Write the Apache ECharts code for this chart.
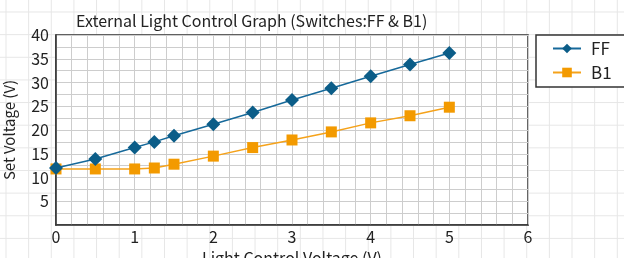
<!DOCTYPE html>
<html>
<head>
<meta charset="utf-8">
<script src="https://cdn.jsdelivr.net/npm/echarts@6/dist/echarts.min.js"></script>
<style>
  html, body { margin: 0; padding: 0; }
  body {
    width: 624px; height: 258px; overflow: hidden;
    background-color: #fff;
    background-image:
      linear-gradient(to right, #e6e6e6 1px, transparent 1px),
      linear-gradient(to bottom, #e6e6e6 1px, transparent 1px);
    background-size: 22.65px 22.65px;
    background-position: 5.5px 11.5px;
  }
  #main { width: 624px; height: 258px; }
</style>
</head>
<body>
<div id="main"></div>
<script>
// 横軸: 光制御電圧 (V)
const xVolts = [0, 0.5, 1, 1.25, 1.5, 2, 2.5, 3, 3.5, 4, 4.5, 5];
// 設定電圧 (V)
const ffValues = [12, 13.9, 16.3, 17.5, 18.8, 21.2, 23.7, 26.3, 28.8, 31.3, 33.8, 36.2];
const b1Values = [11.8, 11.8, 11.8, 12.0, 12.8, 14.5, 16.3, 17.9, 19.6, 21.5, 23.0, 24.8];
const seriesNames = ['FF', 'B1'];

const jpFont = '"Noto Sans CJK JP", sans-serif';
const tickFont = '"Liberation Sans Narrow", "Noto Sans CJK JP", sans-serif';

function initChart(dom){
    let chartDom = document.getElementById(dom);
    let chartInstance = echarts.getInstanceByDom(chartDom);
    if(chartInstance){
        return chartInstance;
    }
    return echarts.init(chartDom);
}

function pairs(xs, ys){
    return xs.map((x, i) => [x, ys[i]]);
}

let myChart = initChart('main');
let option = {
    backgroundColor: 'transparent',
    animation: false,
    title: {
        text: 'External Light Control Graph (Switches:FF & B1)',
        left: 71,
        top: 8,
        textStyle: { fontFamily: jpFont, fontSize: 16, fontWeight: 'normal', color: '#222' }
    },
    legend: {
        orient: 'vertical',
        left: 536,
        top: 35,
        padding: [5, 14, 6, 16],
        itemGap: 7,
        itemWidth: 28,
        itemHeight: 12,
        backgroundColor: '#fff',
        borderColor: '#333',
        borderWidth: 1.5,
        borderRadius: 0,
        data: seriesNames,
        textStyle: { fontFamily: jpFont, fontSize: 17, color: '#222', padding: [0, 0, 0, 5] }
    },
    grid: {
        left: 56, right: 96, top: 35, bottom: 33,
        outerBoundsMode: 'none',
        containLabel: false,
        show: true,
        backgroundColor: '#fff',
        borderColor: '#333',
        borderWidth: 1.5
    },
    xAxis: {
        type: 'value',
        min: 0, max: 6, interval: 1,
        name: 'Light Control Voltage (V)',
        nameLocation: 'middle',
        nameGap: 20,
        nameTextStyle: { fontFamily: jpFont, fontSize: 16, color: '#222', verticalAlign: 'top' },
        axisLine: { show: true, lineStyle: { color: '#333', width: 1.5 } },
        axisTick: { show: false },
        axisLabel: { fontFamily: tickFont, fontSize: 16, color: '#222', margin: 4 },
        splitLine: { show: true, lineStyle: { color: '#cdcdcd' } },
        minorTick: { show: false, splitNumber: 5 },
        minorSplitLine: { show: true, lineStyle: { color: '#cdcdcd' } }
    },
    yAxis: {
        type: 'value',
        min: 0, max: 40, interval: 5,
        name: 'Set Voltage (V)',
        nameLocation: 'middle',
        nameGap: 39,
        nameTextStyle: { fontFamily: jpFont, fontSize: 15, color: '#222' },
        axisLine: { show: true, lineStyle: { color: '#333', width: 1.5 } },
        axisTick: { show: false },
        axisLabel: {
            fontFamily: tickFont, fontSize: 16, color: '#222', margin: 7,
            formatter: v => (v === 0 ? '' : String(v))
        },
        splitLine: { show: true, lineStyle: { color: '#cdcdcd' } },
        minorTick: { show: false, splitNumber: 2 },
        minorSplitLine: { show: true, lineStyle: { color: '#cdcdcd' } }
    },
    series: [
        {
            name: seriesNames[0],
            type: 'line',
            data: pairs(xVolts, ffValues),
            symbol: 'diamond',
            symbolSize: 14,
            color: '#0b5d88',
            lineStyle: { color: '#16699a', width: 1.5 },
            z: 3
        },
        {
            name: seriesNames[1],
            type: 'line',
            data: pairs(xVolts, b1Values),
            symbol: 'rect',
            symbolSize: 11,
            color: '#f39a00',
            lineStyle: { color: '#f5a21a', width: 1.5 },
            z: 2
        }
    ]
};
myChart.setOption(option);
</script>
</body>
</html>
